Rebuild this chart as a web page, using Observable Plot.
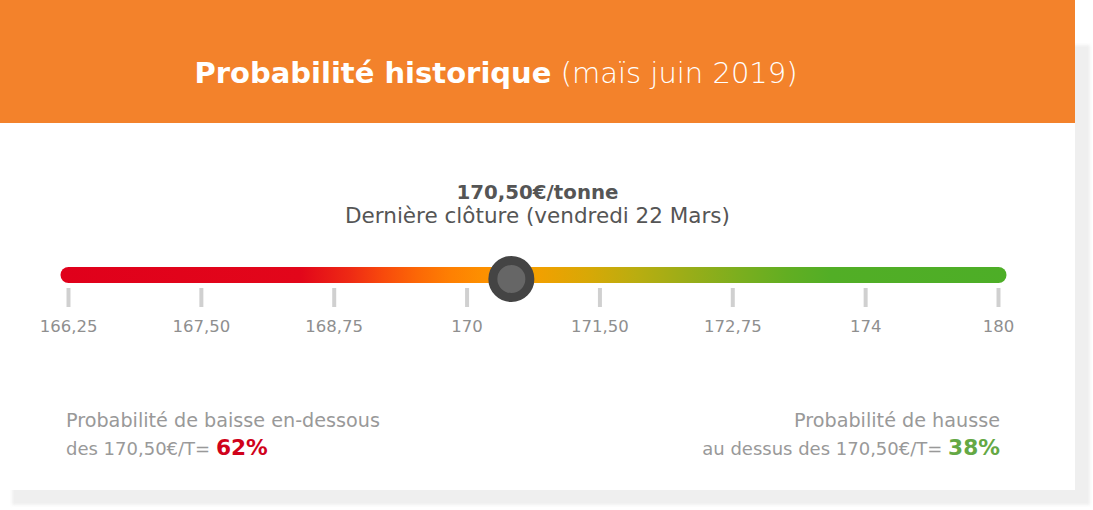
<!DOCTYPE html>
<html><head><meta charset="utf-8">
<script src="https://cdn.jsdelivr.net/npm/d3@7"></script>
<script src="https://cdn.jsdelivr.net/npm/@observablehq/plot@0.6"></script>
<style>
html,body{margin:0;padding:0;background:#fff;}
body{width:1093px;height:510px;position:relative;overflow:hidden;font-family:"DejaVu Sans",sans-serif;}
#shadow{position:absolute;left:12px;top:45px;width:1078px;height:460px;background:#efefef;filter:blur(1.5px);}
#card{position:absolute;left:0;top:0;width:1075px;height:490px;background:#fff;}
#header{position:absolute;left:0;top:0;width:1075px;height:123px;background:#f3822b;}
.abs{position:absolute;white-space:nowrap;line-height:1;}
#chart{position:absolute;left:0;top:240px;}
</style></head><body>
<div id="shadow"></div>
<div id="card">
  <div id="header"></div>
  <div class="abs" id="title" style="left:0;width:992px;text-align:center;top:58.5px;font-size:29px;color:#fff;"></div>
  <div class="abs" id="price" style="left:0;width:1075px;text-align:center;top:183px;font-size:19.8px;font-weight:bold;color:#555;"></div>
  <div class="abs" id="sub" style="left:0;width:1075px;text-align:center;top:204.8px;font-size:21.5px;color:#555;"></div>
  <div id="chart"></div>
  <div class="abs" id="left1" style="left:66px;top:411px;font-size:19.2px;color:#999;"></div>
  <div class="abs" id="left2" style="left:66px;top:436.6px;font-size:18px;color:#999;"></div>
  <div class="abs" id="right1" style="right:75px;top:411px;font-size:19.2px;color:#999;text-align:right;"></div>
  <div class="abs" id="right2" style="right:75px;top:436.6px;font-size:18px;color:#999;text-align:right;"></div>
</div>
<script>
// ---- data ----
const titleBold = "Probabilité historique";
const titleLight = "(maïs juin 2019)";
const lastPrice = 170.5;
const lastPriceLabel = "170,50€/tonne";
const lastCloseLabel = "Dernière clôture (vendredi 22 Mars)";
const tickValues = [166.25, 167.5, 168.75, 170, 171.5, 172.75, 174, 180];
const tickLabels = ["166,25", "167,50", "168,75", "170", "171,50", "172,75", "174", "180"];
const probDown = 62;
const probUp = 38;
const downLines = ["Probabilité de baisse en-dessous", "des 170,50€/T="];
const upLines = ["Probabilité de hausse", "au dessus des 170,50€/T="];

// ---- styles ----
const gradStops = [
  [0, "#e0001b"], [0.255, "#e2061a"], [0.307, "#ee2a14"], [0.342, "#f84a0c"],
  [0.378, "#fc6806"], [0.413, "#fe8002"], [0.447, "#fd9000"], [0.504, "#f2a000"],
  [0.557, "#d8a806"], [0.609, "#b9ad10"], [0.662, "#9aad18"], [0.715, "#7cae1e"],
  [0.767, "#62ae22"], [0.813, "#52ae26"], [1, "#4dae27"]
];

document.getElementById("title").innerHTML =
  `<span style="font-weight:bold">${titleBold}</span> <span style="font-weight:200">${titleLight}</span>`;
document.getElementById("price").textContent = lastPriceLabel;
document.getElementById("sub").textContent = lastCloseLabel;
document.getElementById("left1").textContent = downLines[0];
document.getElementById("left2").innerHTML = `${downLines[1]} <span style="font-weight:bold;font-size:21.7px;color:#d0021b">${probDown}%</span>`;
document.getElementById("right1").textContent = upLines[0];
document.getElementById("right2").innerHTML = `${upLines[1]} <span style="font-weight:bold;font-size:21.7px;color:#64a844">${probUp}%</span>`;

// index positions: ticks evenly spaced
const idx = tickValues.map((_, i) => i);
const toIdx = d3.scaleLinear(tickValues, idx);
const barData = [{x: idx[0], y: 0.5}, {x: idx[idx.length - 1], y: 0.5}];
const marker = [{x: toIdx(lastPrice), y: 0.5}];

const gradientDefs = (index, {x}) => {
  const ns = "http://www.w3.org/2000/svg";
  const defs = document.createElementNS(ns, "defs");
  const g = document.createElementNS(ns, "linearGradient");
  g.setAttribute("id", "barGrad");
  g.setAttribute("gradientUnits", "userSpaceOnUse");
  g.setAttribute("x1", x(idx[0]) - 10);
  g.setAttribute("x2", x(idx[idx.length - 1]) + 10);
  g.setAttribute("y1", 0); g.setAttribute("y2", 0);
  for (const [o, c] of gradStops) {
    const s = document.createElementNS(ns, "stop");
    s.setAttribute("offset", o); s.setAttribute("stop-color", c);
    g.appendChild(s);
  }
  defs.appendChild(g);
  return defs;
};

const chart = Plot.plot({
  width: 1075,
  height: 110,
  marginLeft: 68,
  marginRight: 77,
  marginTop: 21,
  marginBottom: 62,
  style: {fontFamily: '"DejaVu Sans", sans-serif', fontSize: "16px", background: "transparent"},
  x: {domain: [idx[0], idx[idx.length - 1]], axis: null},
  y: {domain: [0, 1], axis: null},
  marks: [
    gradientDefs,
    Plot.axisX(idx, {tickFormat: i => tickLabels[i], label: null, tickSize: 19, tickPadding: 13, stroke: "#d0d0d0", strokeWidth: 4, fill: "#8f8f8f", fontSize: 16.5}),
    Plot.lineX(barData, {x: "x", y: "y", stroke: "url(#barGrad)", strokeWidth: 16, strokeLinecap: "round"}),
    Plot.dot(marker, {x: "x", y: "y", r: 18.5, fill: "#666", stroke: "#444", strokeWidth: 9, dy: 4})
  ]
});
document.getElementById("chart").appendChild(chart);
</script>
</body></html>
